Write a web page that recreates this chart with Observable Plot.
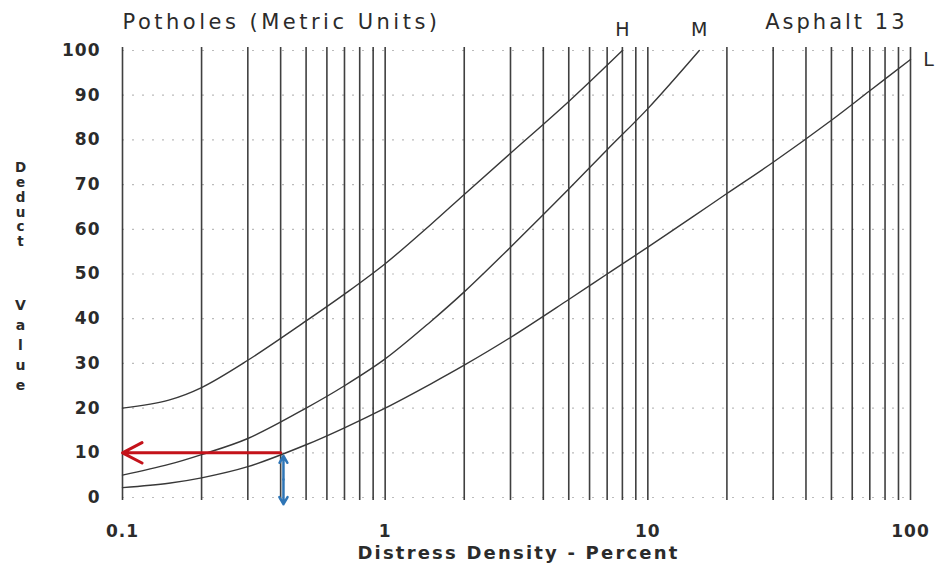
<!DOCTYPE html>
<html><head><meta charset="utf-8">
<script src="https://cdn.jsdelivr.net/npm/d3@7"></script>
<script src="https://cdn.jsdelivr.net/npm/@observablehq/plot@0.6"></script>
<style>
body{margin:0;background:#fff;}
#chart{width:936px;height:569px;}
</style></head><body><div id="chart"></div>
<script>
// ---- data ----
const titleText = "Potholes (Metric Units)";
const subTitle = "Asphalt 13";
const xLabel = "Distress Density - Percent";
const yLabelTop = "Deduct";
const yLabelBottom = "Value";

const xTicks = [0.1, 1, 10, 100];
const xTickLabels = ["0.1", "1", "10", "100"];
const gridX = [0.1,0.2,0.3,0.4,0.5,0.6,0.7,0.8,0.9,1,2,3,4,5,6,7,8,9,10,20,30,40,50,60,70,80,90,100];
const yTicks = [0,10,20,30,40,50,60,70,80,90,100];

const hX = [0.1, 0.15, 0.2, 0.3, 0.5, 0.7, 1, 1.5, 2, 3, 5, 8];
const hY = [20, 21.8, 24.6, 30.7, 39.5, 45.5, 52.3, 61.2, 67.8, 77, 88.6, 100];

const mX = [0.1, 0.15, 0.2, 0.3, 0.5, 0.7, 1, 1.5, 2, 3, 5, 7, 10, 15.7];
const mY = [5, 7.4, 9.6, 13.2, 20, 25, 31, 39.5, 46, 56, 69, 77.8, 87, 100];

const lX = [0.1, 0.15, 0.2, 0.3, 0.5, 0.7, 1, 1.5, 2, 3, 5, 7, 10, 15, 20, 30, 50, 70, 100];
const lY = [2.2, 3.2, 4.4, 6.9, 11.8, 15.6, 20, 25.5, 29.6, 35.8, 44.3, 50, 56, 63, 68, 75, 84.4, 91, 98];

const seriesNames = ["H", "M", "L"];
const seriesX = [hX, mX, lX];
const seriesY = [hY, mY, lY];

const redArrow = [{x1: 0.4, y1: 10, x2: 0.1, y2: 10}];
const blueArrow = [{x: 0.41, mid: 4, top: 9.3, bottom: -1.5}];

// ---- build ----
const rows = seriesNames.flatMap((s, k) => seriesX[k].map((x, i) => ({series: s, x, y: seriesY[k][i]})));
const ends = seriesNames.map((s, k) => ({series: s, x: seriesX[k][seriesX[k].length - 1], y: seriesY[k][seriesY[k].length - 1]}));

const font = "DejaVu Sans";
const ink = "#2b2b2b";

const plot = Plot.plot({
  width: 936, height: 569,
  marginLeft: 122, marginRight: 26, marginTop: 47, marginBottom: 69,
  style: {fontFamily: font, background: "#fff", color: ink, overflow: "visible"},
  x: {type: "log", domain: [0.1, 100]},
  y: {domain: [0, 100], range: [497, 50]},
  marks: [
    Plot.ruleY(yTicks, {stroke: "#777", strokeDasharray: "2,8", strokeOpacity: 0.5, strokeWidth: 1.2}),
    Plot.ruleX(gridX, {stroke: "#1e1e1e", strokeWidth: 1.6, strokeOpacity: 0.85}),
    Plot.line(rows, {x: "x", y: "y", z: "series", curve: "catmull-rom", stroke: "#383838", strokeWidth: 1.4}),
    Plot.arrow(redArrow, {x1: "x1", y1: "y1", x2: "x2", y2: "y2", stroke: "#c4121a", strokeWidth: 3, headLength: 11, headAngle: 55}),
    Plot.arrow(blueArrow, {x1: "x", y1: "mid", x2: "x", y2: "top", stroke: "#2e75b6", strokeWidth: 2.5, headLength: 8, headAngle: 60}),
    Plot.arrow(blueArrow, {x1: "x", y1: "mid", x2: "x", y2: "bottom", stroke: "#2e75b6", strokeWidth: 2.5, headLength: 8, headAngle: 60}),
    Plot.axisX(xTicks, {tickSize: 0, tickPadding: 24, fontSize: 17, fontWeight: "bold", fill: ink, label: null,
      tickFormat: d => xTickLabels[xTicks.indexOf(d)]}),
    Plot.axisY(yTicks, {tickSize: 0, tickPadding: 22, fontSize: 17, fontWeight: "bold", fill: ink, label: null}),
    Plot.text(ends.filter(d => d.series !== "L"), {x: "x", y: "y", text: "series", dy: -21, fontSize: 19, fill: ink}),
    Plot.text(ends.filter(d => d.series === "L"), {x: "x", y: "y", text: "series", dx: 18, fontSize: 19, fill: ink}),
    Plot.text([titleText], {frameAnchor: "top-left", textAnchor: "start", lineAnchor: "middle", dy: -25, fontSize: 21, fill: ink}),
    Plot.text([subTitle], {frameAnchor: "top-right", textAnchor: "end", lineAnchor: "middle", dx: -3, dy: -25, fontSize: 21, fill: ink}),
    Plot.text([xLabel], {frameAnchor: "bottom", lineAnchor: "middle", dx: 2, dy: 53, fontSize: 18, fontWeight: "bold", fill: ink}),
    Plot.text([yLabelTop.split("").join("\n")], {frameAnchor: "top-left", textAnchor: "middle", lineAnchor: "top", dx: -102, dy: 114, fontSize: 13.5, fontWeight: "bold", lineHeight: 1.1, fill: ink}),
    Plot.text([yLabelBottom.split("").join("\n")], {frameAnchor: "top-left", textAnchor: "middle", lineAnchor: "top", dx: -102, dy: 248, fontSize: 14, fontWeight: "bold", lineHeight: 1.43, fill: ink})
  ]
});

document.getElementById("chart").appendChild(plot);

const spacing = {};
spacing[titleText] = 3.5;
spacing[subTitle] = 3;
spacing[xLabel] = 2.2;
d3.select(plot).selectAll("text").each(function() {
  const t = this.textContent;
  if (spacing[t] != null) d3.select(this).attr("letter-spacing", spacing[t]);
  if (xTickLabels.includes(t) || yTicks.map(String).includes(t)) d3.select(this).attr("letter-spacing", 1);
});
</script>
</body></html>
